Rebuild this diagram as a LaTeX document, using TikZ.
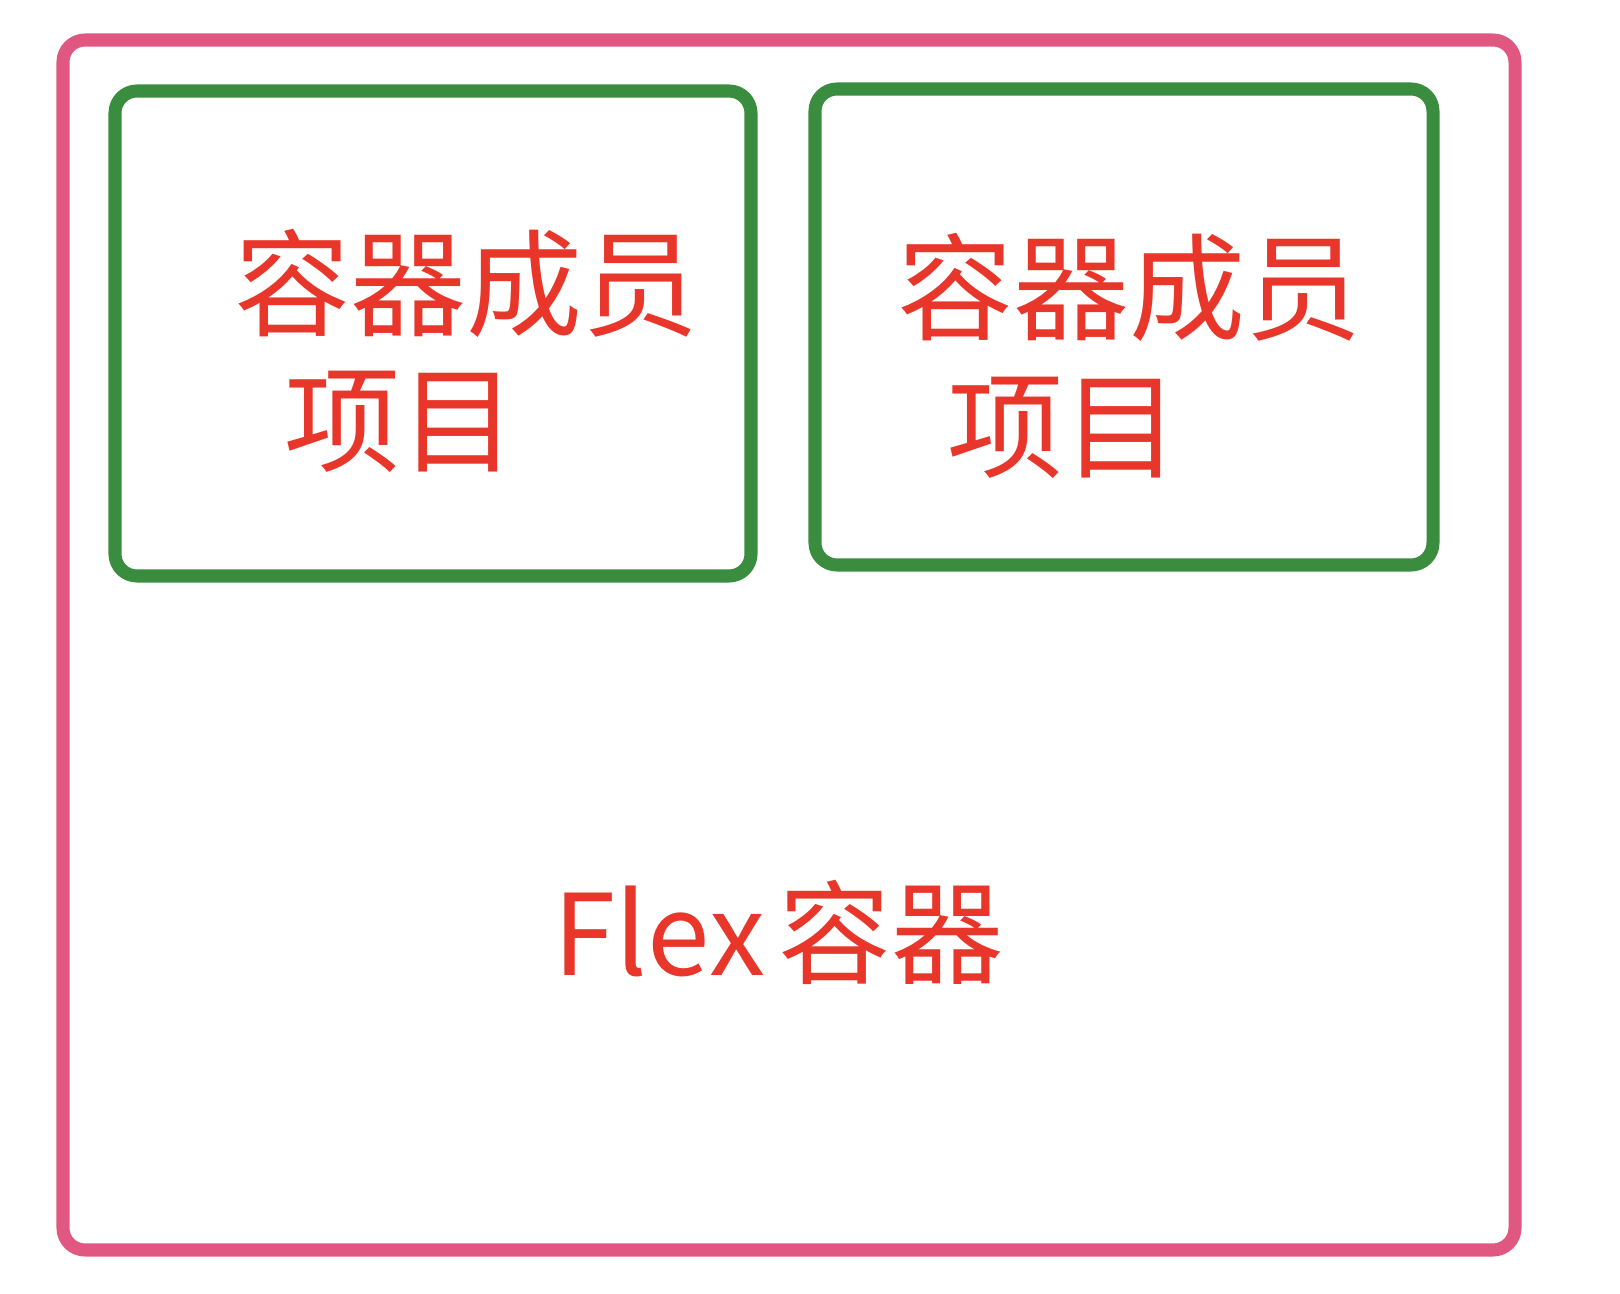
\documentclass[tikz,border=0pt]{standalone}
\usepackage{fontspec}
\usepackage{xcolor}
\newfontfamily\cjk{Noto Sans CJK SC}
\definecolor{flexpink}{HTML}{E05882}
\definecolor{itemgreen}{HTML}{3A8C3F}
\definecolor{textred}{HTML}{E8362A}

\begin{document}
\begin{tikzpicture}[x=0.01cm, y=-0.01cm,
    flexbox/.style={draw=flexpink, line width=3.7pt, rounded corners=0.22cm},
    itembox/.style={draw=itemgreen, line width=3.7pt, rounded corners=0.22cm},
    itemtext/.style={text=textred, font=\cjk\fontsize{33}{40}\selectfont,
        inner sep=0pt, anchor=base west},
    flextext/.style={itemtext, font=\cjk\fontsize{32}{38}\selectfont}]
    \useasboundingbox (0,0) rectangle (1620,1294);
    % Flex 容器
    \draw[flexbox] (63,40) rectangle (1515,1250);
    % 容器成员
    \draw[itembox] (115,91) rectangle (751,576);
    \draw[itembox] (815,89) rectangle (1433,565);
    % 文字
    \node[itemtext] (itemAtop) at (234,328) {容器成员};
    \node[itemtext] (itemAbot) at (284,464) {项目};
    \node[itemtext] (itemBtop) at (897,332) {容器成员};
    \node[itemtext] (itemBbot) at (947,470) {项目};
    \node[flextext] (flexname) at (553,975) {Flex\hspace{0.12em}容器};
\end{tikzpicture}
\end{document}
